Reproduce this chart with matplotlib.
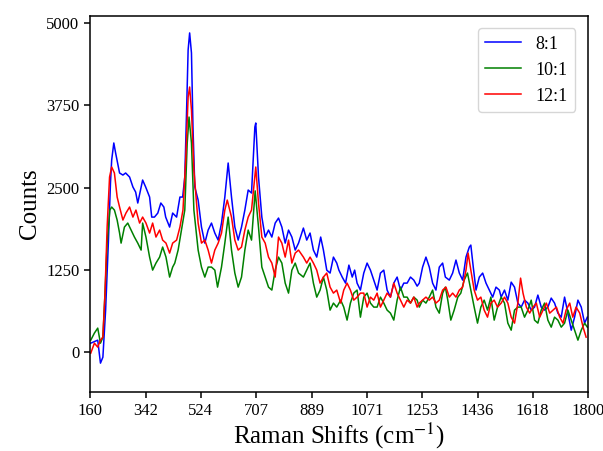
import matplotlib
matplotlib.use('Agg')
import matplotlib.pyplot as plt

# Raman spectra, (shift cm-1, counts)
shift_8 = [161, 184, 193, 201, 210, 219, 226, 230, 237, 243, 256, 267, 276, 289, 300, 309, 316, 325,
           332, 342, 355, 362, 371, 382, 392, 402, 408, 421, 431, 444, 455, 464, 471, 477, 482, 487,
           493, 498, 504, 515, 526, 537, 548, 559, 570, 581, 592, 603, 614, 625, 636, 647, 658, 669,
           680, 691, 702, 705, 714, 725, 736, 747, 758, 769, 780, 791, 802, 813, 824, 835, 846, 862,
           873, 884, 895, 906, 919, 928, 939, 950, 961, 972, 979, 990, 1001, 1012, 1023, 1031, 1039,
           1050, 1061, 1072, 1083, 1094, 1105, 1116, 1127, 1138, 1149, 1160, 1171, 1182, 1193, 1204,
           1215, 1226, 1237, 1244, 1255, 1266, 1277, 1288, 1299, 1310, 1321, 1330, 1343, 1354, 1365,
           1376, 1387, 1398, 1409, 1414, 1422, 1431, 1442, 1453, 1464, 1475, 1486, 1497, 1508, 1514,
           1525, 1536, 1547, 1558, 1569, 1580, 1591, 1602, 1613, 1624, 1635, 1646, 1657, 1668, 1679,
           1690, 1701, 1712, 1723, 1734, 1745, 1756, 1767, 1778, 1789, 1798]
counts_8 = [132, 178, -172, -81, 635, 1655, 2569, 2920, 3179, 3026, 2722, 2691, 2722, 2661, 2509, 2432,
            2265, 2463, 2615, 2509, 2356, 2051, 2051, 2112, 2265, 2204, 2051, 1899, 2112, 2051, 2356,
            2356, 2661, 3681, 4595, 4854, 4549, 3422, 2509, 2310, 1899, 1655, 1853, 1960, 1808, 1701,
            1960, 2356, 2874, 2356, 1899, 1701, 1899, 2158, 2463, 2417, 3422, 3483, 2661, 2051, 1747,
            1853, 1747, 1960, 2036, 1899, 1655, 1853, 1747, 1549, 1655, 1884, 1701, 1808, 1549, 1442,
            1747, 1549, 1244, 1199, 1442, 1351, 1244, 1138, 1046, 1320, 1138, 1244, 1046, 940, 1199,
            1351, 1244, 1092, 940, 1199, 1244, 940, 833, 1046, 1138, 940, 1046, 1046, 1138, 1092, 1000,
            1046, 1290, 1442, 1290, 1046, 940, 1290, 1351, 1138, 1092, 1199, 1397, 1199, 1092, 1442,
            1595, 1625, 1290, 940, 1138, 1199, 1046, 940, 833, 985, 940, 833, 940, 787, 1061, 985, 742,
            681, 787, 742, 635, 681, 864, 681, 635, 681, 818, 742, 589, 528, 833, 589, 330, 528, 787,
            681, 437, 528]

shift_10 = [161, 173, 184, 193, 201, 208, 215, 224, 230, 239, 248, 256, 261, 272, 283, 294, 305, 316,
            327, 332, 343, 355, 365, 376, 388, 398, 409, 421, 431, 438, 449, 460, 471, 479, 485, 493,
            501, 515, 526, 537, 548, 559, 570, 579, 592, 603, 614, 625, 636, 647, 658, 669, 680, 691,
            703, 714, 725, 736, 747, 758, 769, 780, 791, 802, 813, 824, 835, 846, 862, 873, 884, 895,
            906, 917, 928, 939, 950, 961, 972, 985, 995, 1006, 1017, 1028, 1039, 1050, 1061, 1072,
            1083, 1094, 1105, 1116, 1127, 1138, 1149, 1160, 1171, 1182, 1193, 1204, 1215, 1226, 1237,
            1244, 1255, 1266, 1277, 1288, 1299, 1310, 1321, 1330, 1338, 1348, 1359, 1371, 1381, 1392,
            1403, 1414, 1425, 1436, 1447, 1458, 1469, 1480, 1491, 1502, 1514, 1525, 1536, 1547, 1558,
            1569, 1580, 1591, 1602, 1613, 1624, 1635, 1646, 1657, 1668, 1679, 1690, 1701, 1712, 1723,
            1734, 1745, 1756, 1767, 1778, 1789, 1798]
counts_10 = [178, 285, 361, 132, 224, 894, 1655, 2158, 2204, 2158, 2006, 1808, 1655, 1899, 1960, 1853,
             1747, 1655, 1549, 1960, 1747, 1442, 1244, 1351, 1442, 1595, 1442, 1138, 1290, 1351, 1549,
             1853, 2158, 3179, 3574, 3179, 2158, 1549, 1290, 1138, 1290, 1290, 1244, 985, 1290, 1655,
             2051, 1549, 1199, 985, 1138, 1549, 1853, 1701, 2450, 1899, 1290, 1138, 985, 940, 1244,
             1442, 1351, 1046, 894, 1244, 1351, 1199, 1138, 1244, 1351, 1046, 833, 940, 1138, 940, 635,
             742, 681, 787, 681, 483, 742, 894, 940, 528, 833, 894, 742, 681, 681, 833, 742, 635, 589,
             483, 787, 985, 833, 833, 742, 833, 787, 681, 787, 742, 833, 940, 681, 589, 894, 985, 787,
             483, 635, 833, 894, 1092, 1199, 940, 681, 437, 681, 787, 635, 833, 483, 681, 833, 742, 437,
             330, 635, 681, 681, 528, 635, 787, 483, 437, 635, 742, 483, 376, 528, 483, 376, 437, 635,
             483, 330, 178, 330, 437, 376]

shift_12 = [161, 173, 184, 193, 201, 208, 215, 223, 230, 239, 248, 256, 267, 277, 289, 300, 310, 322,
            332, 343, 355, 365, 376, 388, 398, 409, 421, 431, 444, 455, 465, 474, 482, 487, 493, 501,
            515, 526, 537, 548, 559, 570, 581, 592, 603, 611, 625, 636, 647, 658, 669, 680, 691, 702,
            705, 714, 725, 736, 747, 758, 769, 780, 791, 802, 813, 824, 835, 846, 862, 873, 884, 895,
            906, 917, 928, 939, 950, 961, 972, 985, 995, 1006, 1017, 1028, 1039, 1050, 1061, 1072,
            1083, 1094, 1105, 1116, 1127, 1138, 1149, 1160, 1171, 1182, 1193, 1204, 1215, 1226, 1237,
            1244, 1255, 1266, 1277, 1288, 1299, 1310, 1321, 1332, 1343, 1354, 1365, 1376, 1387, 1398,
            1405, 1414, 1425, 1436, 1447, 1458, 1469, 1480, 1491, 1502, 1514, 1525, 1536, 1547, 1558,
            1569, 1578, 1586, 1597, 1608, 1619, 1630, 1641, 1652, 1663, 1674, 1685, 1696, 1707, 1718,
            1728, 1740, 1750, 1761, 1773, 1784, 1794]
counts_12 = [-20, 132, 72, 178, 224, 894, 1899, 2661, 2813, 2722, 2356, 2204, 2006, 2112, 2204, 2051,
             2158, 1960, 2051, 1960, 1808, 1960, 1747, 1853, 1701, 1655, 1503, 1655, 1701, 1899, 2158,
             2920, 3879, 4031, 3681, 2767, 1960, 1655, 1701, 1549, 1351, 1549, 1655, 1808, 2158, 2310,
             2051, 1701, 1549, 1595, 1853, 2051, 2158, 2661, 2813, 2265, 1747, 1655, 1442, 1351, 1138,
             1747, 1655, 1442, 1701, 1351, 1503, 1549, 1442, 1351, 1442, 1351, 1244, 1046, 1138, 1199,
             985, 894, 940, 742, 940, 1046, 940, 787, 833, 894, 894, 681, 833, 787, 894, 681, 787, 894,
             833, 1046, 894, 787, 681, 787, 742, 833, 681, 742, 787, 833, 787, 833, 742, 787, 940, 985,
             833, 894, 833, 940, 985, 1244, 1503, 1244, 940, 787, 833, 635, 528, 742, 787, 681, 742,
             833, 742, 528, 437, 742, 1122, 894, 681, 589, 681, 742, 528, 635, 742, 589, 635, 681, 528,
             437, 635, 742, 528, 681, 589, 376, 224]

x_ticks = [160, 342, 524, 707, 889, 1071, 1253, 1436, 1618, 1800]
y_ticks = [0, 1250, 2500, 3750, 5000]

plt.rcParams['font.family'] = ['Liberation Serif', 'DejaVu Serif']
plt.rcParams['mathtext.fontset'] = 'stix'

fig, ax = plt.subplots(figsize=(6.03, 4.51), dpi=100)
fig.subplots_adjust(left=0.150, right=0.975, bottom=0.131, top=0.965)

ax.plot(shift_8, counts_8, color='blue', lw=1.1, label='8:1')
ax.plot(shift_10, counts_10, color='green', lw=1.1, label='10:1')
ax.plot(shift_12, counts_12, color='red', lw=1.1, label='12:1')

ax.set_xlim(160, 1800)
ax.set_ylim(-610, 5115)
ax.set_xticks(x_ticks)
ax.set_yticks(y_ticks)
ax.tick_params(labelsize=12, length=4.5, width=1.1)
for spine in ax.spines.values():
    spine.set_linewidth(1.1)
ax.set_xlabel(r'Raman Shifts (cm$^{-1}$)', fontsize=18, labelpad=1)
ax.set_ylabel('Counts', fontsize=18)
ax.legend(loc='upper right', fontsize=13, borderaxespad=0.7)

fig.savefig('out.png', dpi=100)
